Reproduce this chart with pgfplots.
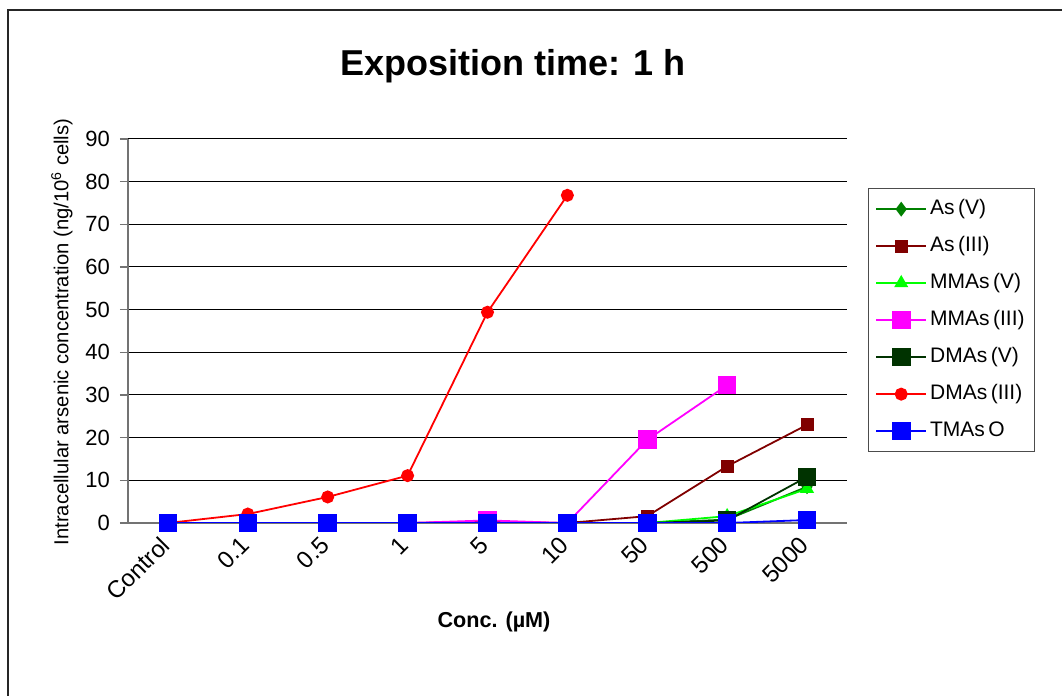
\documentclass[border=0pt]{standalone}
\usepackage{pgfplots}
\pgfplotsset{compat=1.18}
\usepackage{fontspec}
\setmainfont{Liberation Sans}
\definecolor{cAsV}{RGB}{0,128,0}
\definecolor{cAsIII}{RGB}{128,0,0}
\definecolor{cMMAsV}{RGB}{0,255,0}
\definecolor{cMMAsIII}{RGB}{255,0,255}
\definecolor{cDMAsV}{RGB}{0,51,0}
\definecolor{cDMAsIII}{RGB}{255,0,0}
\definecolor{cTMAsO}{RGB}{0,0,255}
\begin{document}
\begin{tikzpicture}
\useasboundingbox (0,0) rectangle (531pt,348pt);
\draw[line width=1pt, black!85] (4pt,0) -- (4pt,343pt) -- (531pt,343pt);
\node[font=\bfseries\fontsize{18}{21}\selectfont] at (256.5pt,315pt) {Exposition time: 1 h};
\node[font=\bfseries\fontsize{10.8}{13}\selectfont] at (247pt,37pt) {Conc. (µM)};
\node[rotate=90, font=\fontsize{10.1}{12}\selectfont] at (31pt,182pt) {Intracellular arsenic concentration (ng/10\textsuperscript{6} cells)};
\begin{axis}[
  at={(64pt,86.5pt)}, anchor=south west,
  scale only axis, width=359.5pt, height=192pt,
  xmin=-0.5, xmax=8.5, ymin=0, ymax=90,
  axis lines*=left,
  axis line style={black!55, line width=0.8pt},
  ytick={0,10,...,90},
  xtick={0,...,8},
  xticklabels={Control,0.1,0.5,1,5,10,50,500,5000},
  x tick label style={xshift=-4.5pt, yshift=3pt, rotate=45, anchor=north east, font=\fontsize{12}{14}\selectfont},
  y tick label style={xshift=-1.5pt, font=\fontsize{11}{13}\selectfont},
  /pgf/number format/assume math mode=true,
  tick align=outside,
  x tick style={draw=none},
  y tick style={black!55, line width=0.8pt},
  major tick length=4pt,
  extra x ticks={-0.5,0.5,...,8.5},
  extra x tick labels={},
  extra x tick style={grid=none, tick style={draw=black!55, line width=0.8pt}},
  ymajorgrids,
  grid style={black, line width=0.5pt},
  legend style={at={(1.029,0.872)}, anchor=north west, draw=black!70, line width=0.5pt,
    font=\fontsize{10.5}{12}\selectfont, inner sep=3.5pt, row sep=5pt,
    nodes={inner sep=1.5pt, text height=8pt, text depth=2.5pt, anchor=west}},
  legend cell align=left,
  legend image code/.code={\draw[mark repeat=2,mark phase=2,#1] plot coordinates {(0pt,0pt) (12.5pt,0pt) (25pt,0pt)};},
  every axis plot/.append style={line width=0.9pt},
]
\addplot[color=cAsV, mark=diamond*, mark size=3pt, mark options={fill=cAsV}] coordinates {
(0,0) (1,0) (2,0) (3,0) (4,0) (5,0) (6,0) (7,0.8) (8,8.5)};
\addlegendentry{As\,(V)}
\addplot[color=cAsIII, mark=square*, mark size=2.8pt, mark options={fill=cAsIII}] coordinates {
(0,0) (1,0) (2,0) (3,0) (4,0.3) (5,0) (6,1.6) (7,13.3) (8,23.0)};
\addlegendentry{As\,(III)}
\addplot[color=cMMAsV, mark=triangle*, mark size=3.2pt, mark options={fill=cMMAsV}] coordinates {
(0,0) (1,0) (2,0) (3,0) (4,0) (5,0) (6,0) (7,1.6) (8,8.0)};
\addlegendentry{MMAs\,(V)}
\addplot[color=cMMAsIII, mark=square*, mark size=4.2pt, mark options={fill=cMMAsIII}] coordinates {
(0,0) (1,0) (2,0) (3,0) (4,0.6) (5,0) (6,19.5) (7,32.3)};
\addlegendentry{MMAs\,(III)}
\addplot[color=cDMAsV, mark=square*, mark size=4.2pt, mark options={fill=cDMAsV}] coordinates {
(0,0) (1,0) (2,0) (3,0) (4,0) (5,0) (6,0) (7,0.6) (8,10.8)};
\addlegendentry{DMAs\,(V)}
\addplot[color=cDMAsIII, mark=*, mark size=2.8pt, mark options={fill=cDMAsIII}] coordinates {
(0,0) (1,2.1) (2,6.1) (3,11.1) (4,49.4) (5,76.8)};
\addlegendentry{DMAs\,(III)}
\addplot[color=cTMAsO, mark=square*, mark size=4.2pt, mark options={fill=cTMAsO}] coordinates {
(0,0) (1,0) (2,0) (3,0) (4,0) (5,0) (6,0) (7,0) (8,0.7)};
\addlegendentry{TMAs\,O}
\end{axis}
\end{tikzpicture}
\end{document}
